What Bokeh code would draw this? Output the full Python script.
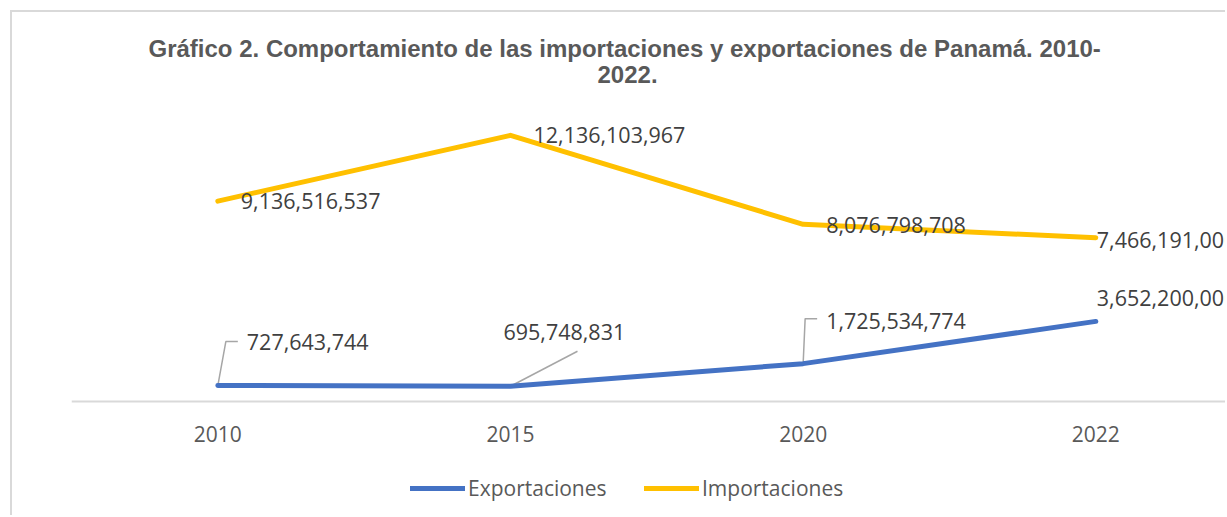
from bokeh.plotting import figure
from bokeh.models import Range1d, Legend, LegendItem, Title, ColumnDataSource, Span
from bokeh.core.properties import value
from bokeh.embed import file_html
from bokeh.resources import INLINE

# ---- data ----
years = ["2010", "2015", "2020", "2022"]
exportaciones = [727643744, 695748831, 1725534774, 3652200000]
importaciones = [9136516537, 12136103967, 8076798708, 7466191000]
series_names = ["Exportaciones", "Importaciones"]

# ---- styles ----
BLUE = "#4472C4"
GOLD = "#FFC000"
GRAY_TXT = "#595959"
LBL_TXT = "#404040"
W, H = 1215, 505
ML, MT, MB = 59, 71, 0
FRAME_W, FRAME_H = W - ML, H - MT - MB
X_START, X_END = -0.5, 3.45
Y_START, Y_END = -5.29e9, 14.5e9

# label offsets in pixels (dx right, dy down)
imp_dx = [23, 23, 23, 1]
imp_dy = [0, 0, 1, 2]
exp_dx = [29, -7, 23, 1]
exp_dy = [-44, -54, -43, -23]
# leader line polylines (pixel offsets from point), None = no leader
leaders = [[(0, 0), (8, -44), (20, -44)],
           [(0, 0), (67, -35)],
           [(0, 0), (2, -45), (14, -45)],
           None]

xs = list(range(len(years)))

p = figure(width=W, height=H,
           x_range=Range1d(X_START, X_END), y_range=Range1d(Y_START, Y_END),
           x_axis_location=None, y_axis_location=None,
           output_backend="svg", toolbar_location=None, title=None,
           min_border_left=ML, min_border_right=0, min_border_top=MT,
           min_border_bottom=MB)
p.margin = (10, 0, 0, 10)
p.styles = {"border-left": "2px solid #d9d9d9", "border-top": "2px solid #d9d9d9"}
p.outline_line_color = None
p.grid.visible = False
p.background_fill_color = "white"
p.border_fill_color = "white"

# category axis: baseline at zero and year labels under it
p.add_layout(Span(location=0, dimension="width", line_color="#d9d9d9", line_width=2))
p.text(x=xs, y=[0] * len(xs), text=years, y_offset=33,
       text_font=value("Open Sans"), text_font_size="21px", text_color=GRAY_TXT,
       text_align="center", text_baseline="middle")

# titles
t2 = Title(text="2022.", align="left", offset=526, text_font="Liberation Sans",
           text_font_style="bold", text_font_size="24px", text_color=GRAY_TXT, standoff=2)
t1 = Title(text="Gráfico 2. Comportamiento de las importaciones y exportaciones de Panamá. 2010-",
           align="left", offset=77, text_font="Liberation Sans",
           text_font_style="bold", text_font_size="24px", text_color=GRAY_TXT, standoff=2)
p.add_layout(t2, "above")
p.add_layout(t1, "above")

# leader lines
XU = (X_END - X_START) / FRAME_W
YU = (Y_END - Y_START) / FRAME_H
lx, ly = [], []
for i, pts in enumerate(leaders):
    if pts is None:
        continue
    lx.append([xs[i] + dx * XU for dx, dy in pts])
    ly.append([exportaciones[i] - dy * YU for dx, dy in pts])
p.multi_line(lx, ly, line_color="#a6a6a6", line_width=1.5)

r_exp = p.line(xs, exportaciones, line_color=BLUE, line_width=5, line_cap="round", line_join="round")
r_imp = p.line(xs, importaciones, line_color=GOLD, line_width=5, line_cap="round", line_join="round")

src = ColumnDataSource(dict(
    x=xs + xs,
    y=exportaciones + importaciones,
    text=[f"{v:,}" for v in exportaciones] + [f"{v:,}" for v in importaciones],
    dx=exp_dx + imp_dx,
    dy=exp_dy + imp_dy,
))
p.text(x="x", y="y", text="text", x_offset="dx", y_offset="dy", source=src,
       text_font=value("Open Sans"), text_font_size="21.5px", text_color=LBL_TXT,
       text_align="left", text_baseline="middle")

legend = Legend(items=[LegendItem(label=value(series_names[0]), renderers=[r_exp]),
                       LegendItem(label=value(series_names[1]), renderers=[r_imp])],
                orientation="horizontal", location=(339, 14), glyph_width=55,
                glyph_height=30, label_height=30, label_width=140, label_standoff=3,
                spacing=36, padding=0, margin=0,
                border_line_color=None, background_fill_alpha=0,
                label_text_font="Open Sans", label_text_font_size="21px",
                label_text_color=GRAY_TXT)
p.add_layout(legend, "center")

open("out.html", "w").write(file_html(p, INLINE))
